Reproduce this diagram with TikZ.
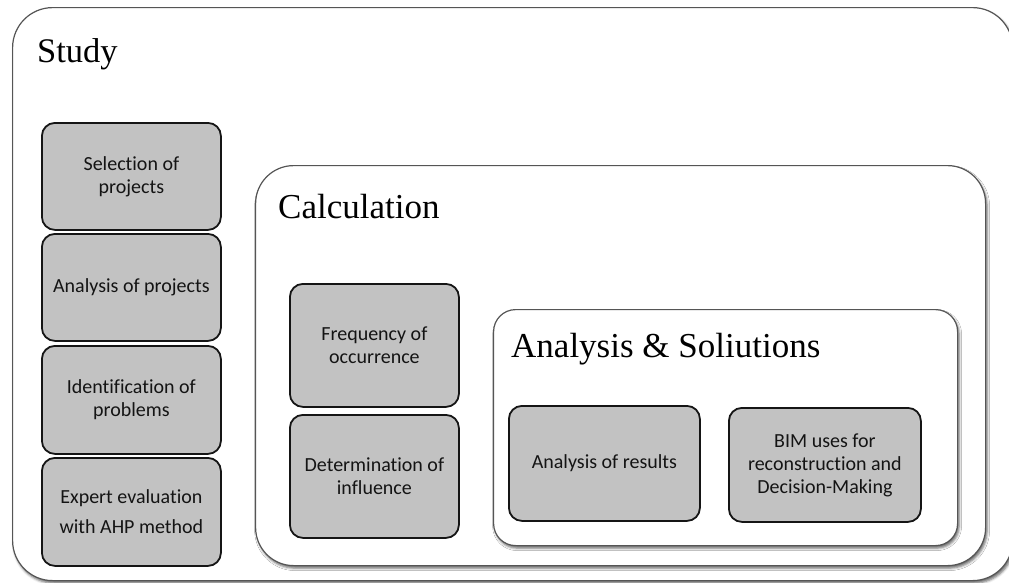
\documentclass[tikz,border=0pt]{standalone}
\usepackage{fontspec}
\setmainfont{Liberation Serif}
\newfontfamily\boxfont[Ligatures=NoCommon]{Carlito}
\usetikzlibrary{shadows.blur}
\definecolor{boxgray}{HTML}{C2C2C2}
\definecolor{boxline}{HTML}{151515}
\definecolor{frameline}{HTML}{555555}
\definecolor{txt}{HTML}{141414}
\tikzset{
  container/.style={draw=frameline, line width=1.2pt, fill=white, rectangle,
    rounded corners=#1, inner sep=0pt, anchor=north west,
    blur shadow={shadow xshift=1.5pt, shadow yshift=-2.5pt, shadow blur radius=2.5pt, shadow opacity=60}},
  title/.style={anchor=base west, inner sep=0pt, text=black, font=\fontsize{35}{40}\selectfont},
  stepbox/.style={draw=boxline, line width=1.8pt, fill=boxgray, rectangle,
    rounded corners=13pt, inner sep=0pt, anchor=north west, align=center,
    text=txt, font=\boxfont\fontsize{20}{23}\selectfont},
}
\begin{document}
\begin{tikzpicture}[x=1pt,y=-1pt]
\useasboundingbox (0,0) rectangle (1009,582);
% containers
\node[container=40pt, minimum width=1000pt, minimum height=573pt] (study) at (12,7) {};
\node[title, font=\fontsize{34.5}{40}\selectfont] (studyT) at (37,62) {Study};
\node[container=38pt, minimum width=730pt, minimum height=400pt] (calc) at (255,165) {};
\node[title] (calcT) at (278,218) {Calculation};
\node[container=22pt, minimum width=464pt, minimum height=236pt] (anal) at (493,309) {};
\node[title] (analT) at (511,357) {Analysis \& Soliutions};
% study steps
\node[stepbox, minimum width=179pt, minimum height=107pt] (sel) at (41,122) {Selection of\\projects};
\node[stepbox, minimum width=179pt, minimum height=107pt] (anp) at (41,233) {Analysis of projects};
\node[stepbox, minimum width=179pt, minimum height=108pt] (idp) at (41,345) {Identification of\\problems};
\node[stepbox, minimum width=179pt, minimum height=108pt, font=\boxfont\fontsize{20}{30}\selectfont] (exp) at (41,457) {Expert evaluation\\with AHP method};
% calculation steps
\node[stepbox, minimum width=169pt, minimum height=123pt] (freq) at (289,283) {Frequency of\\occurrence};
\node[stepbox, minimum width=169pt, minimum height=123pt] (det) at (289,414) {Determination of\\influence};
% analysis steps
\node[stepbox, minimum width=191pt, minimum height=115pt] (res) at (508,405) {Analysis of results};
\node[stepbox, minimum width=192pt, minimum height=114pt] (bim) at (728,407) {BIM uses for\\reconstruction and\\Decision-Making};
\end{tikzpicture}
\end{document}
